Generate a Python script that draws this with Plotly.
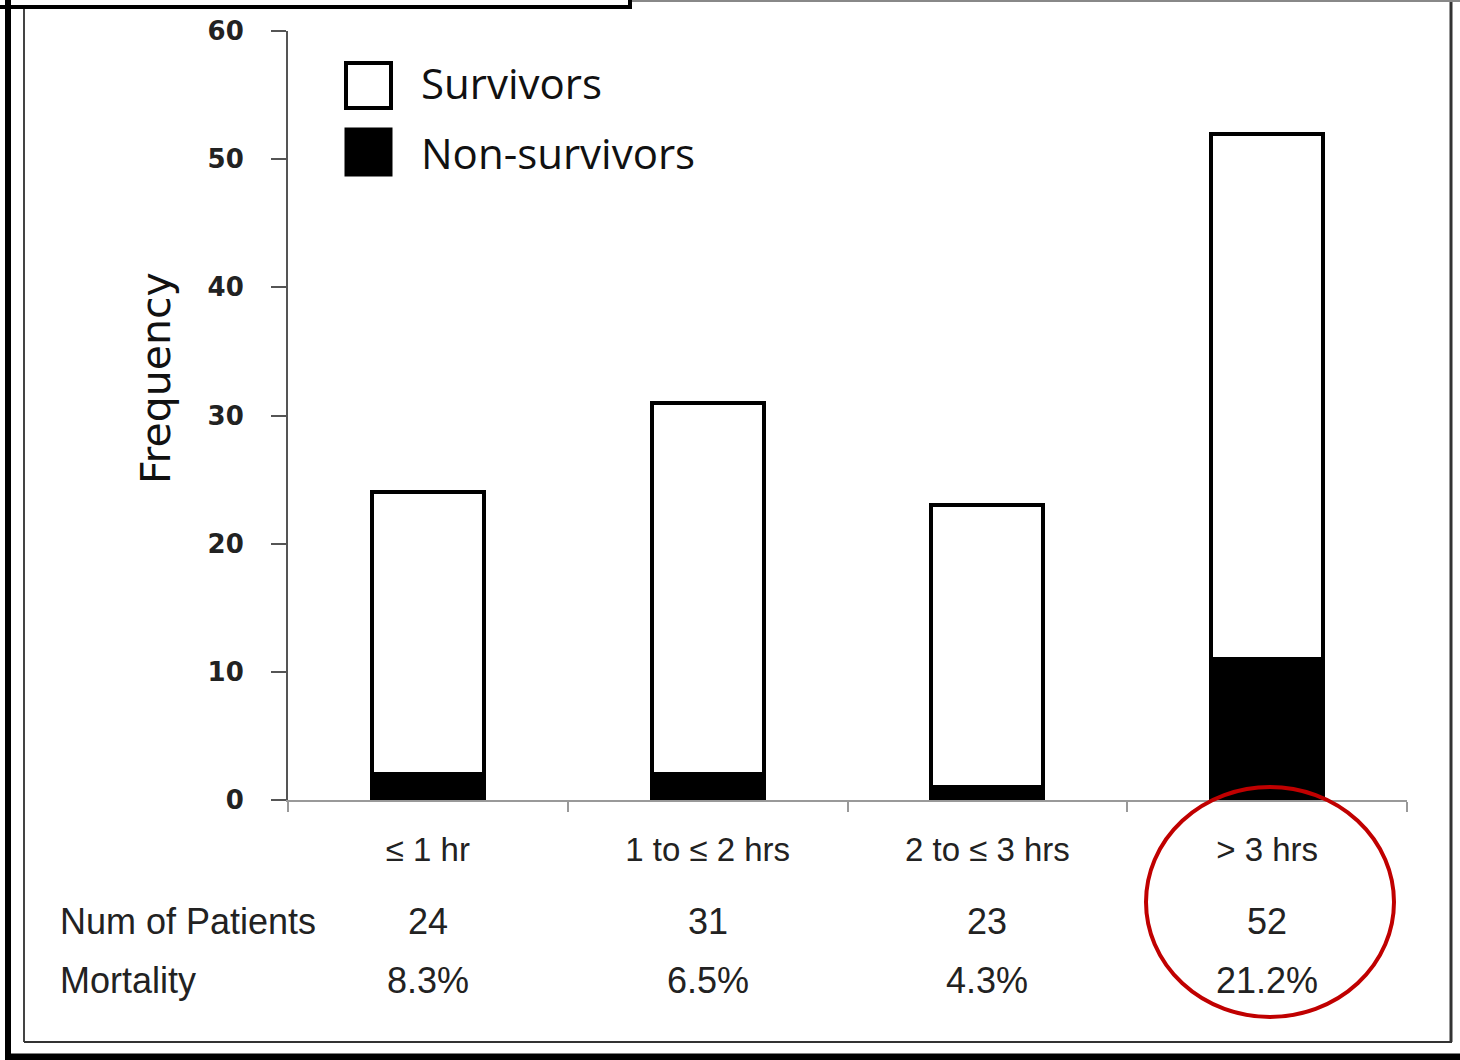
import plotly.graph_objects as go

categories = ["≤ 1 hr", "1 to ≤ 2 hrs", "2 to ≤ 3 hrs", "> 3 hrs"]
non_survivors = [2, 2, 1, 11]
survivors = [22, 29, 22, 41]
num_patients = ["24", "31", "23", "52"]
mortality = ["8.3%", "6.5%", "4.3%", "21.2%"]
y_ticks = [0, 10, 20, 30, 40, 50, 60]

W, H = 1460, 1060
L, R, T, B = 288, 1407, 31, 800  # plot area in pixels


def px(x):
    return (x - L) / (R - L)


def py(y):
    return (B - y) / (B - T)


fig = go.Figure()
fig.add_trace(go.Bar(x=categories, y=non_survivors, name="Non-survivors",
                     marker=dict(color="black", line=dict(color="black", width=4)),
                     showlegend=False))
fig.add_trace(go.Bar(x=categories, y=survivors, name="Survivors",
                     marker=dict(color="white", line=dict(color="black", width=4)),
                     showlegend=False))

shapes = []
annotations = []

# legend (manual, large swatches)
shapes.append(dict(type="rect", xref="paper", yref="paper", x0=px(346), x1=px(391), y0=py(108), y1=py(63),
                   line=dict(color="black", width=4), fillcolor="white"))
shapes.append(dict(type="rect", xref="paper", yref="paper", x0=px(346), x1=px(391), y0=py(175), y1=py(129),
                   line=dict(color="black", width=3), fillcolor="black"))
annotations.append(dict(xref="paper", yref="paper", x=px(419), y=py(83), text="Survivors", showarrow=False,
                        xanchor="left", yanchor="middle", font=dict(family="Open Sans", size=42, color="#111")))
annotations.append(dict(xref="paper", yref="paper", x=px(419), y=py(152), text="Non-survivors", showarrow=False,
                        xanchor="left", yanchor="middle", font=dict(family="Open Sans", size=42, color="#111")))

# y axis title
annotations.append(dict(xref="paper", yref="paper", x=px(156), y=py(378), text="Frequency", showarrow=False,
                        textangle=-90, xanchor="center", yanchor="middle",
                        font=dict(family="DejaVu Sans", size=41, color="#111")))

# table rows under the axis
row_font = dict(family="Liberation Sans", size=36, color="#222")
annotations.append(dict(xref="paper", yref="paper", x=px(58), y=py(921), text="Num of Patients", showarrow=False,
                        xanchor="left", yanchor="middle", font=row_font))
annotations.append(dict(xref="paper", yref="paper", x=px(58), y=py(980), text="Mortality", showarrow=False,
                        xanchor="left", yanchor="middle", font=row_font))
for c, n, m in zip(categories, num_patients, mortality):
    annotations.append(dict(xref="x", yref="paper", x=c, y=py(921), text=n, showarrow=False,
                            xanchor="center", yanchor="middle", font=row_font))
    annotations.append(dict(xref="x", yref="paper", x=c, y=py(980), text=m, showarrow=False,
                            xanchor="center", yanchor="middle", font=row_font))

# red ellipse highlight
shapes.append(dict(type="circle", xref="paper", yref="paper", x0=px(1146), x1=px(1394), y0=py(1017), y1=py(787),
                   line=dict(color="#C00000", width=4), layer="above"))

# outer frame
shapes.append(dict(type="line", xref="paper", yref="paper", x0=px(8), x1=px(8), y0=py(0), y1=py(1056),
                   line=dict(color="black", width=6)))
shapes.append(dict(type="line", xref="paper", yref="paper", x0=px(5), x1=px(1460), y0=py(1057), y1=py(1057),
                   line=dict(color="black", width=7)))
shapes.append(dict(type="line", xref="paper", yref="paper", x0=px(24), x1=px(24), y0=py(9), y1=py(1042),
                   line=dict(color="#444", width=2)))
shapes.append(dict(type="line", xref="paper", yref="paper", x0=px(24), x1=px(1452), y0=py(1042), y1=py(1042),
                   line=dict(color="#333", width=2)))
shapes.append(dict(type="line", xref="paper", yref="paper", x0=px(1451), x1=px(1451), y0=py(0), y1=py(1042),
                   line=dict(color="#333", width=3)))
shapes.append(dict(type="line", xref="paper", yref="paper", x0=px(632), x1=px(1460), y0=py(1), y1=py(1),
                   line=dict(color="#888", width=2)))
shapes.append(dict(type="line", xref="paper", yref="paper", x0=px(0), x1=px(632), y0=py(7), y1=py(7),
                   line=dict(color="black", width=4)))
shapes.append(dict(type="line", xref="paper", yref="paper", x0=px(630), x1=px(630), y0=py(0), y1=py(8),
                   line=dict(color="black", width=4)))

fig.update_layout(
    width=W, height=H,
    margin=dict(l=L, r=W - R, t=T, b=H - B),
    paper_bgcolor="white", plot_bgcolor="white",
    barmode="stack", bargap=0.6,
    shapes=shapes, annotations=annotations,
    xaxis=dict(type="category", showgrid=False, showline=True, linecolor="#999", linewidth=2,
               ticks="outside", tickson="boundaries", ticklen=10, tickwidth=2, tickcolor="#999",
               tickfont=dict(family="Liberation Sans", size=33, color="#222"), ticklabelstandoff=19,
               range=[-0.5, 3.5]),
    yaxis=dict(range=[0, 60], tickvals=y_ticks, showgrid=False, zeroline=False, showline=True,
               linecolor="#555", linewidth=2, ticks="outside", ticklen=15, tickwidth=2, tickcolor="#555",
               tickfont=dict(family="DejaVu Sans", size=26, color="#222", weight="bold"),
               ticklabelstandoff=22),
)

fig.write_html("out.html", config={"displayModeBar": False},
               post_script="document.body.style.margin='0';document.body.style.overflow='hidden';")
